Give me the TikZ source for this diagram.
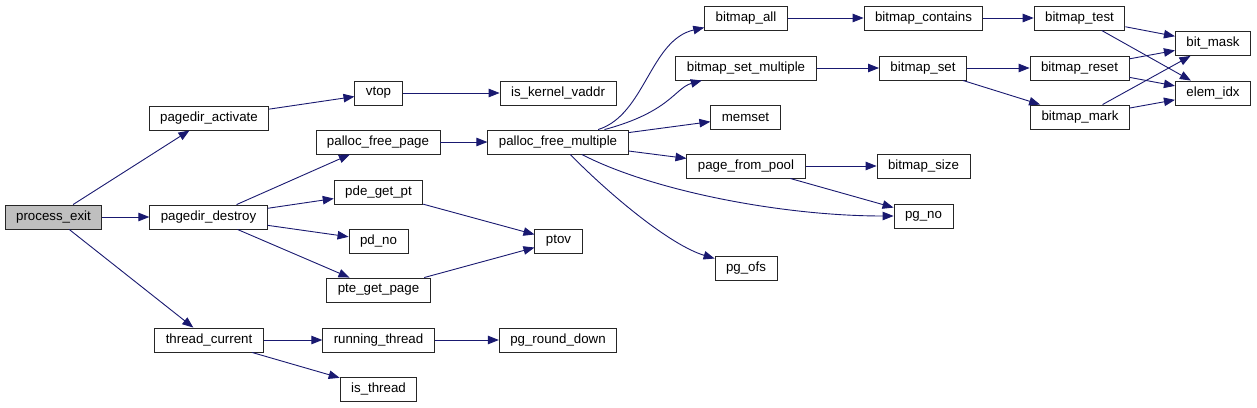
\documentclass[tikz,border=0pt]{standalone}
\usepackage{fontspec}
\setmainfont{Liberation Sans}
\usepackage{xcolor}
\usepackage{tikz}
\usetikzlibrary{arrows.meta, positioning}
\definecolor{edgeblue}{RGB}{25, 25, 112}
\definecolor{rootgray}{RGB}{191, 191, 191}

\begin{document}
\begin{tikzpicture}[
  x=1pt, y=-1pt,
  fnbox/.style={draw=black!85, line width=0.9pt, fill=white, minimum height=24pt, inner xsep=11pt, inner ysep=0pt, font=\fontsize{13.3}{16}\selectfont},
  call/.style={draw=edgeblue, line width=0.9pt, -{Triangle[length=11pt, width=8.5pt]}}
]
\useasboundingbox (0,0) rectangle (1257,407);

% function boxes
\node[fnbox, fill=rootgray] (pexit) at (53.5,217) {process\_exit};

\node[fnbox] (pdact) at (209,118) {pagedir\_activate};
\node[fnbox] (pddes) at (208.5,217) {pagedir\_destroy};
\node[fnbox] (thcur) at (209,340) {thread\_current};

\node[fnbox] (vtop) at (378.5,93) {vtop};
\node[fnbox] (pfpage) at (378,142) {palloc\_free\_page};
\node[fnbox] (pdegpt) at (378.5,192) {pde\_get\_pt};
\node[fnbox] (pdno) at (378.5,241) {pd\_no};
\node[fnbox] (ptegp) at (378.5,290) {pte\_get\_page};
\node[fnbox] (runth) at (378.5,340) {running\_thread};
\node[fnbox] (isth) at (378.5,389) {is\_thread};

\node[fnbox] (iskv) at (558,93) {is\_kernel\_vaddr};
\node[fnbox] (pfmul) at (558,142) {palloc\_free\_multiple};
\node[fnbox] (ptov) at (558.5,241) {ptov};
\node[fnbox] (pgrd) at (558,340) {pg\_round\_down};

\node[fnbox] (ball) at (746,18) {bitmap\_all};
\node[fnbox] (bsetm) at (746,68) {bitmap\_set\_multiple};
\node[fnbox] (memset) at (745.5,117) {memset};
\node[fnbox] (pfpool) at (746,166) {page\_from\_pool};
\node[fnbox] (pgofs) at (746,268) {pg\_ofs};

\node[fnbox] (bcont) at (923.5,18) {bitmap\_contains};
\node[fnbox] (bset) at (923,68) {bitmap\_set};
\node[fnbox] (bsize) at (923.5,166) {bitmap\_size};
\node[fnbox] (pgno) at (923.5,216) {pg\_no};

\node[fnbox] (btest) at (1079.5,18) {bitmap\_test};
\node[fnbox] (breset) at (1079.5,68) {bitmap\_reset};
\node[fnbox] (bmark) at (1080,117) {bitmap\_mark};

\node[fnbox] (bmask) at (1213,43.5) {bit\_mask};
\node[fnbox] (eidx) at (1213,93) {elem\_idx};

% calls
\draw[call] (pexit) -- (pdact);
\draw[call] (pexit) -- (pddes);
\draw[call] (pexit) -- (thcur);

\draw[call] (pdact) -- (vtop);
\draw[call] (pddes) -- (pfpage);
\draw[call] (pddes) -- (pdegpt);
\draw[call] (pddes) -- (pdno);
\draw[call] (pddes) -- (ptegp);
\draw[call] (thcur) -- (runth);
\draw[call] (thcur) -- (isth);

\draw[call] (vtop) -- (iskv);
\draw[call] (pfpage) -- (pfmul);
\draw[call] (pdegpt) -- (ptov);
\draw[call] (ptegp) -- (ptov);
\draw[call] (runth) -- (pgrd);

\draw[call] (pfmul) .. controls (645,115) and (650,40) .. (ball);
\draw[call] (pfmul) .. controls (670,112) and (675,88) .. (bsetm);
\draw[call] (pfmul) -- (memset);
\draw[call] (pfmul) -- (pfpool);
\draw[call] (pfmul) .. controls (650,190) and (780,216) .. (pgno);
\draw[call] (pfmul) .. controls (610,195) and (670,245) .. (pgofs);

\draw[call] (ball) -- (bcont);
\draw[call] (bsetm) -- (bset);
\draw[call] (pfpool) -- (bsize);
\draw[call] (pfpool) -- (pgno);

\draw[call] (bcont) -- (btest);
\draw[call] (bset) -- (breset);
\draw[call] (bset) -- (bmark);

\draw[call] (btest) -- (bmask);
\draw[call] (btest) -- (eidx);
\draw[call] (breset) -- (bmask);
\draw[call] (breset) -- (eidx);
\draw[call] (bmark) -- (bmask);
\draw[call] (bmark) -- (eidx);

\end{tikzpicture}
\end{document}
